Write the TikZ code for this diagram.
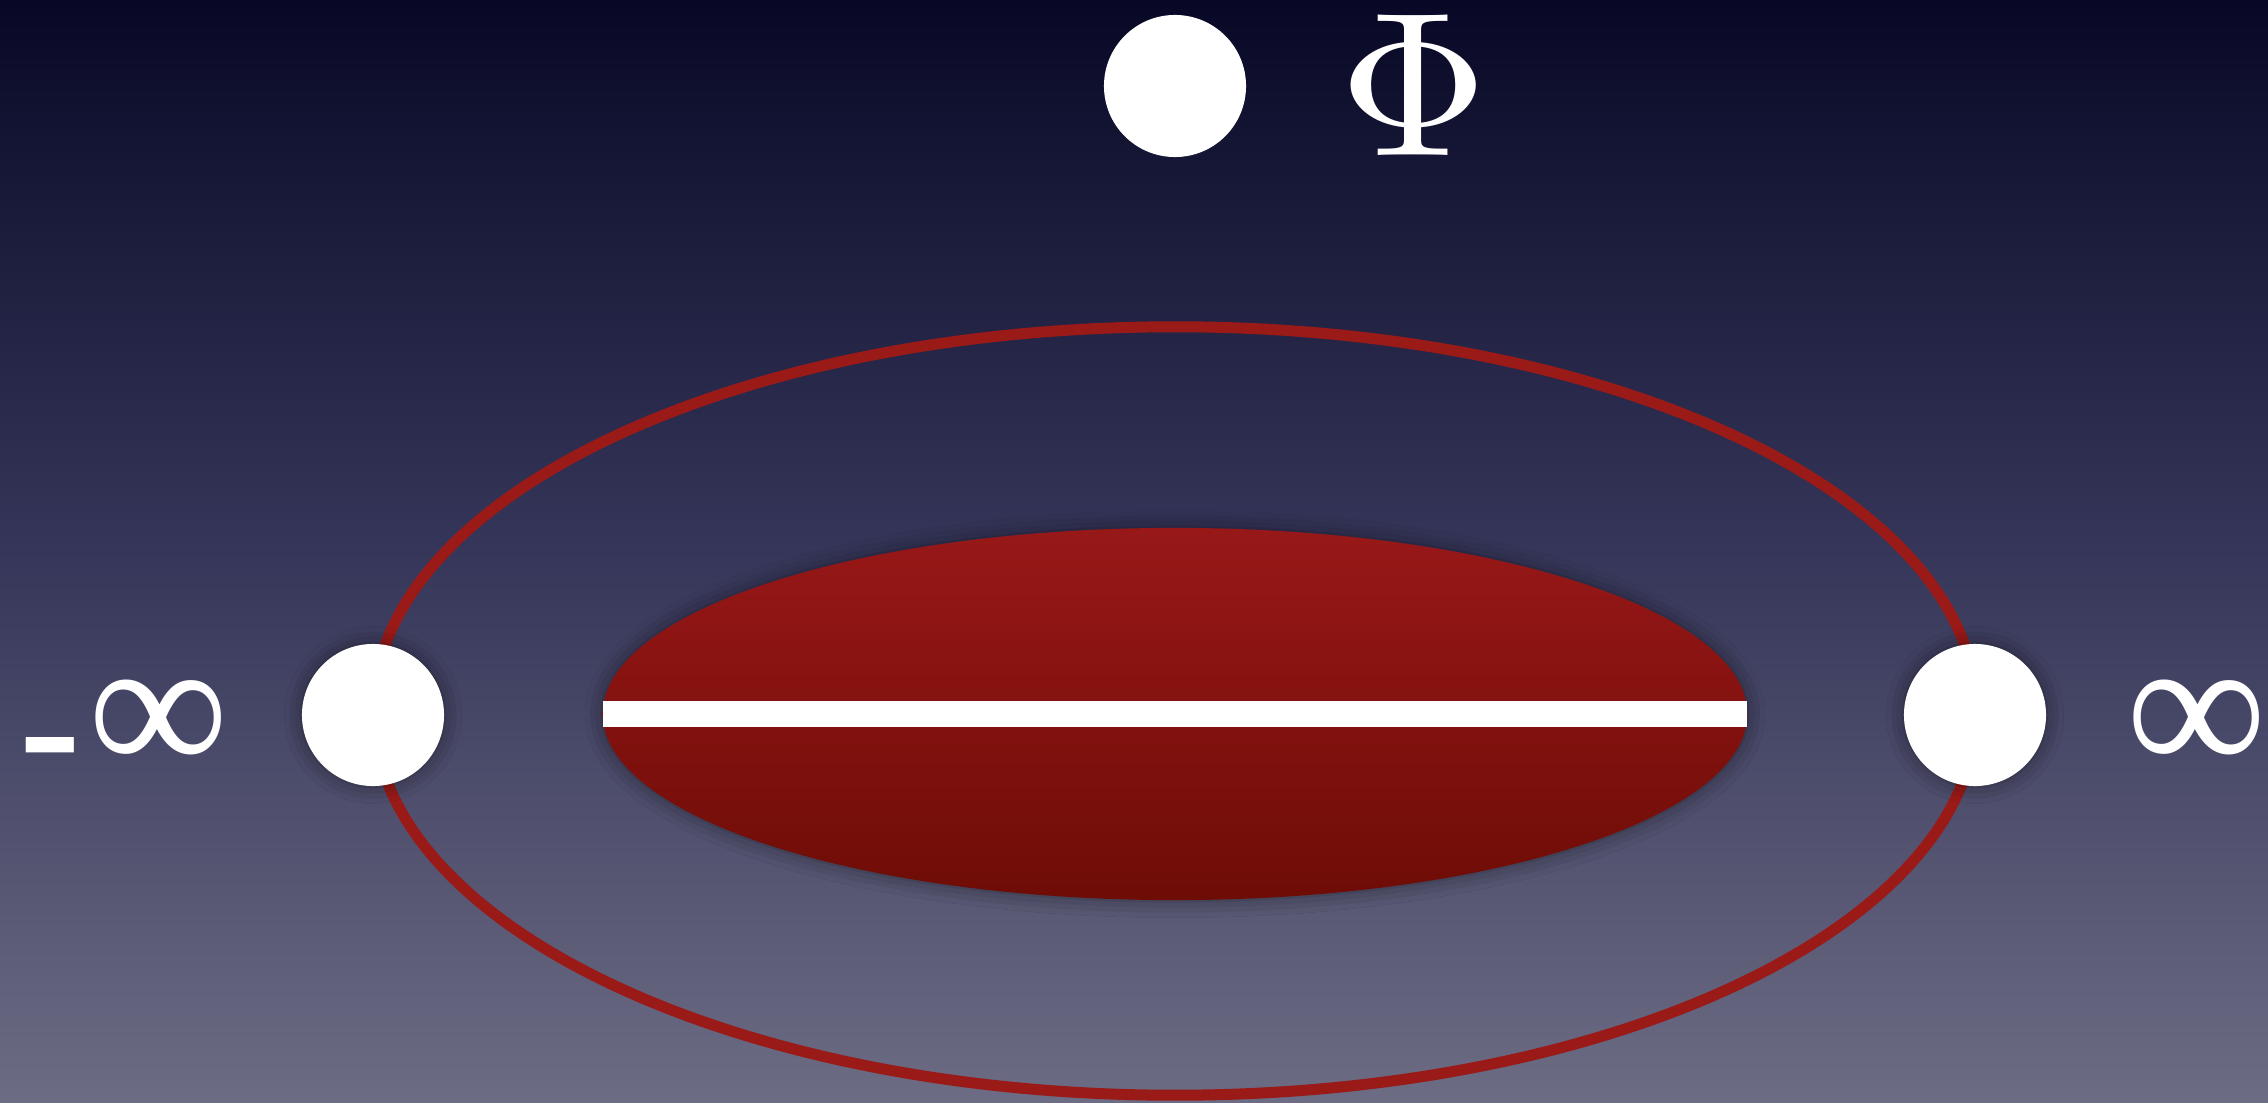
\documentclass[tikz,border=0pt]{standalone}
\usepackage{fontspec}
\newfontfamily\symfont{Liberation Sans}
\newfontfamily\inffont{Liberation Serif}
\usetikzlibrary{shapes.geometric,shadows.blur}

\definecolor{skytop}{HTML}{080826}
\definecolor{skymid}{HTML}{36365A}
\definecolor{skybot}{HTML}{6C6C84}
\definecolor{ringred}{HTML}{9A1A18}
\definecolor{blobtop}{HTML}{981818}
\definecolor{blobbot}{HTML}{6E0C06}

\begin{document}
\begin{tikzpicture}[
    x=0.01cm, y=-0.01cm,
    dot/.style  ={circle, fill=white, minimum size=1.42cm, inner sep=0pt},
    soft/.style ={blur shadow={shadow xshift=0pt, shadow yshift=0pt,
                  shadow blur radius=5pt, shadow opacity=45}},
    lab/.style  ={text=white, inner sep=0pt},
    inf/.style  ={lab, font=\inffont\fontsize{56}{58}\selectfont, anchor=base}
]
% backdrop
\shade[top color=skytop, bottom color=skybot, middle color=skymid]
    (0,0) rectangle (2268,1103);
\useasboundingbox (0,0) rectangle (2268,1103);

\node[ellipse, draw=ringred, line width=0.11cm, minimum width=16.02cm,
      minimum height=7.68cm, inner sep=0pt] (ring) at (1175,711) {};
\node[ellipse, soft, top color=blobtop, bottom color=blobbot,
      minimum width=11.44cm, minimum height=3.72cm, inner sep=0pt] (blob) at (1175,714) {};
\node[fill=white, minimum width=11.44cm, minimum height=0.26cm, inner sep=0pt] (cut) at (blob.center) {};

\node[dot]       (top)   at (1175,86)  {};
\node[dot, soft] (left)  at (373,715)  {};
\node[dot, soft] (right) at (1975,715) {};

\node[lab] (phi) at (1414,85) {\scalebox{5.85}{$\Phi$}};
\node[inf] (minf) at (123,774)
    {\raisebox{-0.23cm}{\symfont\fontsize{56}{58}\selectfont -}\kern0.05cm ∞};
\node[inf] (pinf) at (2197,774) {∞};
\end{tikzpicture}
\end{document}
